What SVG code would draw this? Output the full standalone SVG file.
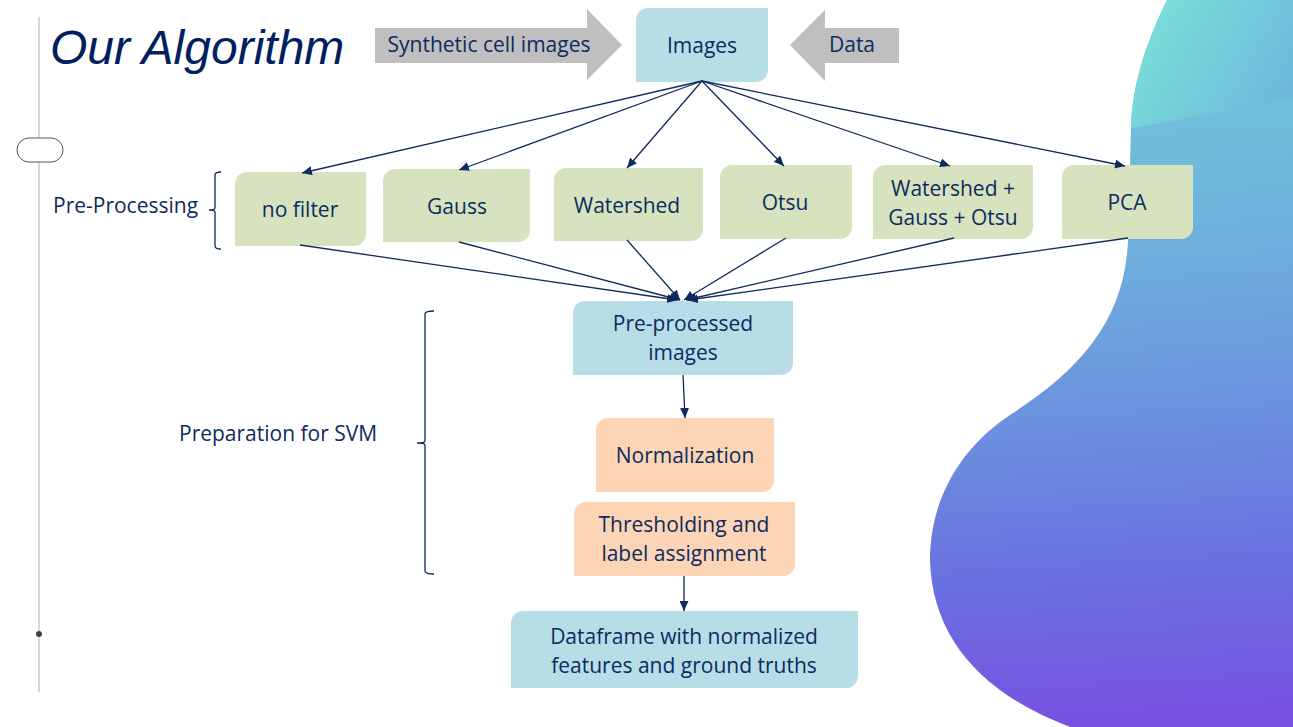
<svg xmlns="http://www.w3.org/2000/svg" width="1293" height="727" viewBox="0 0 1293 727">
<defs>
<style>
.t{font-family:"Open Sans","Liberation Sans",sans-serif;font-size:21px;fill:#0F2A5E;text-anchor:middle}
.tl{font-family:"Open Sans","Liberation Sans",sans-serif;font-size:21px;fill:#0F2A5E}
.blue{fill:#B7DDE7}
.green{fill:#D7E3BF}
.peach{fill:#FBD5B5}
.gray{fill:#BFBFBF}
.con line{stroke:#0F2A5E;stroke-width:1.3;marker-end:url(#ah)}
.br{fill:none;stroke:#0F2A5E;stroke-width:1.3}
</style>
<marker id="ah" markerUnits="userSpaceOnUse" markerWidth="11" markerHeight="9" refX="10" refY="4.5" orient="auto">
<path d="M0,0 L10,4.5 L0,9 Z" fill="#0F2A5E"/>
</marker>
<linearGradient id="gLow" gradientUnits="userSpaceOnUse" x1="1120" y1="100" x2="1160" y2="727">
<stop offset="0" stop-color="#70C2DA"/>
<stop offset="0.25" stop-color="#6EAEDC"/>
<stop offset="0.5" stop-color="#6C92DF"/>
<stop offset="0.75" stop-color="#6A70E0"/>
<stop offset="1" stop-color="#7850E0"/>
</linearGradient>
<linearGradient id="gTop" gradientUnits="userSpaceOnUse" x1="1140" y1="20" x2="1293" y2="110">
<stop offset="0" stop-color="#7BE0D8"/>
<stop offset="1" stop-color="#6CB6DC"/>
</linearGradient>
</defs>
<rect width="1293" height="727" fill="#ffffff"/>

<g id="blob">
<path d="M1167,0 C1150,35 1132,80 1131,128 L1128,240 C1125,320 1080,370 1010,415 C960,448 930,500 930,560 C932,640 985,695 1070,727 L1293,727 L1293,0 Z" fill="url(#gLow)"/>
<path d="M1167,0 C1150,35 1132,80 1131,128 L1293,99 L1293,0 Z" fill="url(#gTop)"/>
</g>

<g id="sideline">
<line x1="39" y1="17" x2="39" y2="692" stroke="#BDBDBD" stroke-width="1.2"/>
<rect x="17" y="138" width="46" height="24" rx="12" ry="12" fill="#ffffff" stroke="#555555" stroke-width="1"/>
<circle cx="39" cy="634" r="3" fill="#404040"/>
</g>

<g id="title">
<text x="50" y="64" font-family="'Liberation Sans',Arial,sans-serif" font-style="italic" font-size="48" fill="#002060">Our Algorithm</text>
</g>

<g id="synthetic">
<path class="gray" d="M375,28 H587 V9 L622,45 L587,80 V63 H375 Z"/>
<text class="t" x="489" y="52">Synthetic cell images</text>
</g>

<g id="data">
<path class="gray" d="M899,28 H825 V10 L790,45 L825,81 V63 H899 Z"/>
<text class="t" x="852" y="52">Data</text>
</g>

<g id="images">
<path class="blue" d="M648,8 H768 V70 A12,12 0 0 1 756,82 H636 V20 A12,12 0 0 1 648,8 Z"/>
<text class="t" x="702" y="53">Images</text>
</g>

<g id="nofilter">
<path class="green" d="M247,172 H366 V234 A12,12 0 0 1 354,246 H235 V184 A12,12 0 0 1 247,172 Z"/>
<text class="t" x="300" y="217">no filter</text>
</g>
<g id="gauss">
<path class="green" d="M395,169 H530 V230 A12,12 0 0 1 518,242 H383 V181 A12,12 0 0 1 395,169 Z"/>
<text class="t" x="457" y="214">Gauss</text>
</g>
<g id="watershed">
<path class="green" d="M566,168 H703 V229 A12,12 0 0 1 691,241 H554 V180 A12,12 0 0 1 566,168 Z"/>
<text class="t" x="627" y="213">Watershed</text>
</g>
<g id="otsu">
<path class="green" d="M732,165 H852 V227 A12,12 0 0 1 840,239 H720 V177 A12,12 0 0 1 732,165 Z"/>
<text class="t" x="785" y="210">Otsu</text>
</g>
<g id="wgo">
<path class="green" d="M885,165 H1033 V227 A12,12 0 0 1 1021,239 H873 V177 A12,12 0 0 1 885,165 Z"/>
<text class="t" x="953" y="196">Watershed +</text>
<text class="t" x="953" y="225">Gauss + Otsu</text>
</g>
<g id="pca">
<path class="green" d="M1074,165 H1193 V227 A12,12 0 0 1 1181,239 H1062 V177 A12,12 0 0 1 1074,165 Z"/>
<text class="t" x="1127" y="210">PCA</text>
</g>

<g id="preprocessed">
<path class="blue" d="M585,301 H793 V363 A12,12 0 0 1 781,375 H573 V313 A12,12 0 0 1 585,301 Z"/>
<text class="t" x="683" y="331">Pre-processed</text>
<text class="t" x="683" y="360">images</text>
</g>

<g id="normalization">
<path class="peach" d="M608,418 H774 V480 A12,12 0 0 1 762,492 H596 V430 A12,12 0 0 1 608,418 Z"/>
<text class="t" x="685" y="463">Normalization</text>
</g>

<g id="thresholding">
<path class="peach" d="M586,502 H795 V564 A12,12 0 0 1 783,576 H574 V514 A12,12 0 0 1 586,502 Z"/>
<text class="t" x="684" y="532">Thresholding and</text>
<text class="t" x="684" y="561">label assignment</text>
</g>

<g id="dataframe">
<path class="blue" d="M523,611 H858 V676 A12,12 0 0 1 846,688 H511 V623 A12,12 0 0 1 523,611 Z"/>
<text class="t" x="684" y="644">Dataframe with normalized</text>
<text class="t" x="684" y="673">features and ground truths</text>
</g>

<g id="preprocessing-label">
<text class="tl" x="53" y="213">Pre-Processing</text>
<path class="br" d="M221,172 Q215,172 215,175 L215,208 Q215,210 209,210 Q215,210 215,212 L215,246 Q215,249 221,249"/>
</g>

<g id="svm-label">
<text class="tl" x="179" y="441">Preparation for SVM</text>
<path class="br" d="M434,311 Q425,311 425,314 L425,441 Q425,443 417,443 Q425,443 425,445 L425,571 Q425,574 434,574"/>
</g>

<g id="connectors" class="con">
<line x1="702" y1="81" x2="302" y2="173"/>
<line x1="702" y1="81" x2="459" y2="170"/>
<line x1="702" y1="81" x2="627" y2="168"/>
<line x1="702" y1="81" x2="784" y2="166"/>
<line x1="702" y1="81" x2="950" y2="166"/>
<line x1="702" y1="81" x2="1125" y2="166"/>
<line x1="300" y1="245" x2="677" y2="300"/>
<line x1="459" y1="242" x2="680" y2="300"/>
<line x1="627" y1="240" x2="680" y2="300"/>
<line x1="786" y1="238" x2="684" y2="300"/>
<line x1="954" y1="238" x2="686" y2="300"/>
<line x1="1128" y1="238" x2="688" y2="300"/>
<line x1="683" y1="375" x2="685" y2="418"/>
<line x1="684" y1="576" x2="684" y2="611"/>
</g>
</svg>
